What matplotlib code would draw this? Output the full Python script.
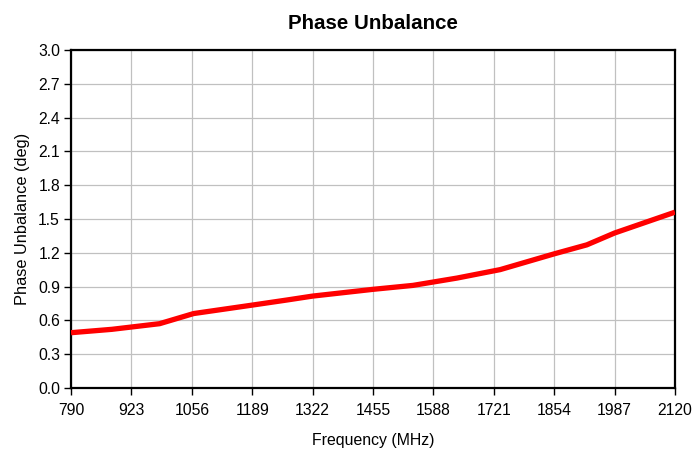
import matplotlib
matplotlib.use("Agg")
import matplotlib.pyplot as plt

freq_mhz = [790, 880, 985, 1060, 1189, 1265, 1322, 1455, 1543, 1640, 1735, 1854, 1926, 1987, 2120]
phase_deg = [0.49, 0.52, 0.57, 0.66, 0.735, 0.78, 0.815, 0.875, 0.91, 0.975, 1.05, 1.19, 1.27, 1.375, 1.56]

x_ticks = [790, 923, 1056, 1189, 1322, 1455, 1588, 1721, 1854, 1987, 2120]
y_ticks = [0.0, 0.3, 0.6, 0.9, 1.2, 1.5, 1.8, 2.1, 2.4, 2.7, 3.0]

plt.rcParams['font.family'] = ['Liberation Sans', 'DejaVu Sans']

fig = plt.figure(figsize=(6.93, 4.5), dpi=100)
ax = fig.add_axes([0.1025, 0.138, 0.8715, 0.751])

ax.plot(freq_mhz, phase_deg, color='#ff0000', linewidth=3.8, solid_capstyle='butt', zorder=3)

ax.set_xlim(790, 2120)
ax.set_ylim(0, 3.0)
ax.set_xticks(x_ticks)
ax.set_yticks(y_ticks)
ax.set_yticklabels([f"{v:.1f}" for v in y_ticks])
ax.grid(True, color='#c0c0c0', linewidth=0.9)
ax.set_axisbelow(True)

for s in ax.spines.values():
    s.set_linewidth(1.6)
    s.set_color('black')
ax.tick_params(direction='out', length=5, width=1, labelsize=11.3, colors='black')
ax.tick_params(axis='x', pad=6)
ax.tick_params(axis='y', pad=3)

ax.set_title('Phase Unbalance', fontsize=14.8, fontweight='bold', pad=15)
ax.set_xlabel('Frequency (MHz)', fontsize=11.4, labelpad=11)
ax.set_ylabel('Phase Unbalance (deg)', fontsize=11.8, labelpad=6)

fig.savefig('out.png', dpi=100)
